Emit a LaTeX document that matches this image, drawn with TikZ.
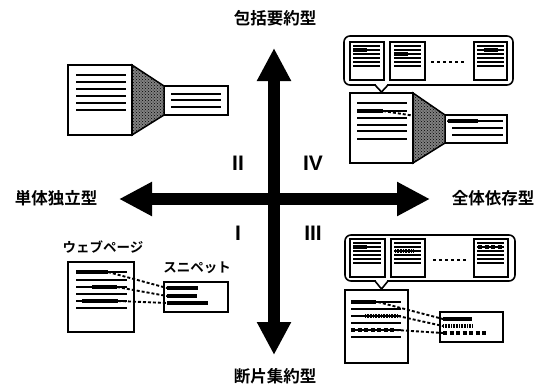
\documentclass[tikz,border=0pt]{standalone}
\usepackage{fontspec}
\newfontfamily\jp{Noto Sans CJK JP}[BoldFont={Noto Sans CJK JP Bold}]
\newfontfamily\rom{Liberation Sans}
\usetikzlibrary{arrows.meta,patterns}
\begin{document}
\begin{tikzpicture}[x=1pt,y=-1pt,
  doc/.style={draw=black, line width=1.8pt, fill=white, inner sep=0pt, outer sep=0pt, anchor=north west},
  page/.style={draw=black, line width=1.5pt, fill=white, inner sep=0pt, outer sep=0pt, anchor=north west},
  bubble/.style={draw=black, line width=1.6pt, rounded corners=6pt, inner sep=0pt, outer sep=0pt, anchor=north west},
  tl/.style={line width=1.6pt},
  ptl/.style={line width=1.2pt},
  hl/.style={line width=3.4pt},
  dotl/.style={line width=3.2pt, dash pattern=on 0.9pt off 0.7pt},
  dashl/.style={line width=3.2pt, dash pattern=on 4pt off 2.5pt},
  conn/.style={line width=1.9pt, dash pattern=on 3pt off 2pt},
  funnel/.style={draw=black, line width=1.5pt, fill=black!50, postaction={pattern=crosshatch dots, pattern color=black}},
  axisarrow/.style={line width=12pt, {Triangle[length=33pt,width=32pt]}-{Triangle[length=33pt,width=32pt]}},
  axlabel/.style={font=\jp\bfseries\fontsize{16.5}{16.5}\selectfont, inner sep=0pt},
  kana/.style={font=\jp\bfseries\fontsize{13.5}{13.5}\selectfont, inner sep=0pt},
  roman/.style={font=\rom\bfseries\fontsize{21}{21}\selectfont, inner sep=0pt}
]
\useasboundingbox (0,0) rectangle (537,384);

% ---------- axes ----------
\coordinate (W) at (119,199);
\coordinate (E) at (430,199);
\coordinate (N) at (274,48);
\coordinate (S) at (274,355);
\draw[axisarrow] (W) -- (E);
\draw[axisarrow] (N) -- (S);

\node[axlabel] (lN) at (275,18) {包括要約型};
\node[axlabel] (lS) at (275,376) {断片集約型};
\node[axlabel] (lW) at (56,198) {単体独立型};
\node[axlabel] (lE) at (493,198) {全体依存型};

\node[roman] (r2) at (238,163) {II};
\node[roman] (r4) at (313,163) {IV};
\node[roman] (r1) at (238,233) {I};
\node[roman] (r3) at (313,233) {III};

% ---------- top-left: document -> summary ----------
\node[doc, minimum width=64pt, minimum height=70pt] (A) at (68,65) {};
\node[doc, minimum width=64pt, minimum height=29pt] (As) at (164,86) {};
\draw[funnel] (A.north east) -- (As.north west) -- (As.south west) -- (A.south east) -- cycle;
\foreach \y in {75,82,89,96,103,110} \draw[tl] (76,\y) -- (126,\y);
\foreach \y in {94,100,107} \draw[tl] (171,\y) -- (221,\y);

% ---------- top-right ----------
\node[bubble, minimum width=169pt, minimum height=49pt] (B) at (344,36) {};
\fill[white] (375.9,83.6) rectangle (387.1,86.8);
\coordinate (Bt) at (381.5,92);
\draw[line width=1.6pt] (375,85) -- (Bt) -- (388,85);

\node[page, minimum width=34pt, minimum height=38pt] (P1) at (350,42) {};
\node[page, minimum width=35pt, minimum height=38pt] (P2) at (390,42) {};
\node[page, minimum width=33pt, minimum height=38pt] (P3) at (474,42) {};
\foreach \k in {0,...,5} {
  \draw[ptl] (353,{46+4*\k}) -- (380,{46+4*\k});
  \draw[ptl] (394,{46+4*\k}) -- (421,{46+4*\k});
  \draw[ptl] (477,{46+4*\k}) -- (504,{46+4*\k});
}
\draw[hl] (353,50) -- (367,50);
\draw[hl] (394,54) -- (408,54);
\draw[hl] (484,50) -- (498,50);
\coordinate (d1) at (431,62); \coordinate (d2) at (466,62);
\draw[line width=1.8pt, dash pattern=on 3pt off 3pt] (d1) -- (d2);

\node[doc, minimum width=63pt, minimum height=70pt] (C) at (350,93) {};
\node[doc, minimum width=62pt, minimum height=28pt] (Cs) at (445,115) {};
\foreach \y in {103,111,118,125,131,139} \draw[tl] (357,\y) -- (407,\y);
\draw[hl] (357,111) -- (383,111);
\coordinate (c1) at (383,111);
\coordinate (c2) at (448,121);
\draw[conn] (c1) -- (c2);
\draw[funnel] (C.north east) -- (Cs.north west) -- (Cs.south west) -- (C.south east) -- cycle;
\draw[tl] (448,121) -- (503,121);
\draw[hl] (448,121) -- (478,121);
\draw[tl] (452,128) -- (503,128);
\draw[tl] (452,135) -- (503,135);

% ---------- bottom-left ----------
\node[kana] (lweb) at (103,247) {ウェブページ};
\node[kana] (lsn) at (197,268) {スニペット};
\node[doc, minimum width=66pt, minimum height=70pt] (D) at (68,262) {};
\node[doc, minimum width=64pt, minimum height=30pt] (Ds) at (164,282) {};
\foreach \y in {272,280,287,294,301,308} \draw[tl] (76,\y) -- (127,\y);
\draw[hl] (76,272) -- (108,272);
\draw[hl] (92,287) -- (117,287);
\draw[hl] (82,301) -- (118,301);
\draw[hl] (167,288) -- (198,288);
\draw[hl] (167,296) -- (197,296);
\draw[hl] (167,303) -- (208,303);
\coordinate (e1) at (108,272); \coordinate (f1) at (167,288);
\coordinate (e2) at (117,287); \coordinate (f2) at (167,296);
\coordinate (e3) at (118,301); \coordinate (f3) at (167,303);
\draw[conn] (e1) -- (f1);
\draw[conn] (e2) -- (f2);
\draw[conn] (e3) -- (f3);

% ---------- bottom-right ----------
\node[bubble, minimum width=170pt, minimum height=46pt] (G) at (345,235) {};
\fill[white] (375.9,279.6) rectangle (387.1,282.8);
\coordinate (Gt) at (381.5,289);
\draw[line width=1.6pt] (375,281) -- (Gt) -- (388,281);

\node[page, minimum width=35pt, minimum height=38pt] (Q1) at (350,239) {};
\node[page, minimum width=34pt, minimum height=38pt] (Q2) at (391,239) {};
\node[page, minimum width=34pt, minimum height=38pt] (Q3) at (474,239) {};
\foreach \k in {0,...,5} {
  \draw[ptl] (353,{243+4*\k}) -- (381,{243+4*\k});
  \draw[ptl] (394,{243+4*\k}) -- (421,{243+4*\k});
  \draw[ptl] (477,{243+4*\k}) -- (504,{243+4*\k});
}
\draw[hl] (353,247) -- (367,247);
\draw[dotl] (395,251) -- (413,251);
\draw[dashl] (478,247) -- (503,247);
\coordinate (g1) at (433,260); \coordinate (g2) at (466,260);
\draw[line width=1.8pt, dash pattern=on 3pt off 3pt] (g1) -- (g2);

\node[doc, minimum width=63pt, minimum height=73pt] (H) at (345,290) {};
\node[doc, minimum width=63pt, minimum height=30pt] (Hs) at (440,312) {};
\foreach \y in {302,309,316,323,330,337} \draw[tl] (351,\y) -- (401,\y);
\draw[hl] (351,302) -- (376,302);
\draw[dotl] (365,316) -- (398,316);
\draw[dashl] (351,330) -- (396,330);
\draw[hl] (443,319) -- (472,319);
\draw[dotl] (443,326) -- (472,326);
\draw[dashl] (443,333) -- (486,333);
\coordinate (h1) at (378,302); \coordinate (k1) at (443,319);
\coordinate (h2) at (398,316); \coordinate (k2) at (443,326);
\coordinate (h3) at (396,330); \coordinate (k3) at (443,333);
\draw[conn] (h1) -- (k1);
\draw[conn] (h2) -- (k2);
\draw[conn] (h3) -- (k3);
\end{tikzpicture}
\end{document}
